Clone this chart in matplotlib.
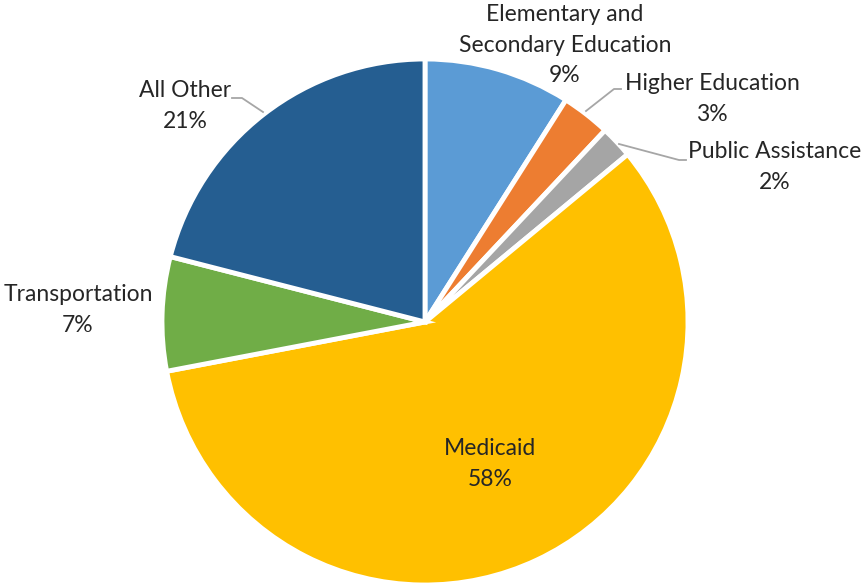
import matplotlib.pyplot as plt

# State spending by category, share of total (%)
categories = ['Elementary and\nSecondary Education', 'Higher Education', 'Public Assistance',
              'Medicaid', 'Transportation', 'All Other']
shares = [9, 3, 2, 58, 7, 21]
colors = ['#5B9BD5', '#ED7D31', '#A5A5A5', '#FFC000', '#70AD47', '#255E91']

# label anchor points (pixel space, origin bottom-left) and leader lines
label_pos = [(565, 541), (712, 487), (775, 419), (490, 122), (78, 276), (185, 480)]
leaders = [None,
           [(586, 475), (614, 497), (621, 497)],
           [(619, 442), (679, 426), (686, 426)],
           None,
           None,
           [(232, 488), (242, 488), (263, 474)]]

plt.rcParams['font.family'] = ['Lato', 'DejaVu Sans']

fig = plt.figure(figsize=(8.63, 5.86), dpi=100)
ax = fig.add_axes([0, 0, 1, 1])
ax.pie(shares, colors=colors, startangle=90, counterclock=False,
       center=(425, 264), radius=263, frame=True,
       wedgeprops=dict(edgecolor='white', linewidth=3.5))
ax.set_xlim(0, 863)
ax.set_ylim(0, 586)
ax.set_aspect('equal')
ax.axis('off')

for name, val, (x, y), line in zip(categories, shares, label_pos, leaders):
    ax.text(x, y, f'{name}\n{val}%', ha='center', va='center', fontsize=16.5,
            color='#262626', linespacing=1.53)
    if line:
        xs, ys = zip(*line)
        ax.plot(xs, ys, color='#A6A6A6', linewidth=1.3)

fig.savefig('out.png', dpi=100)
